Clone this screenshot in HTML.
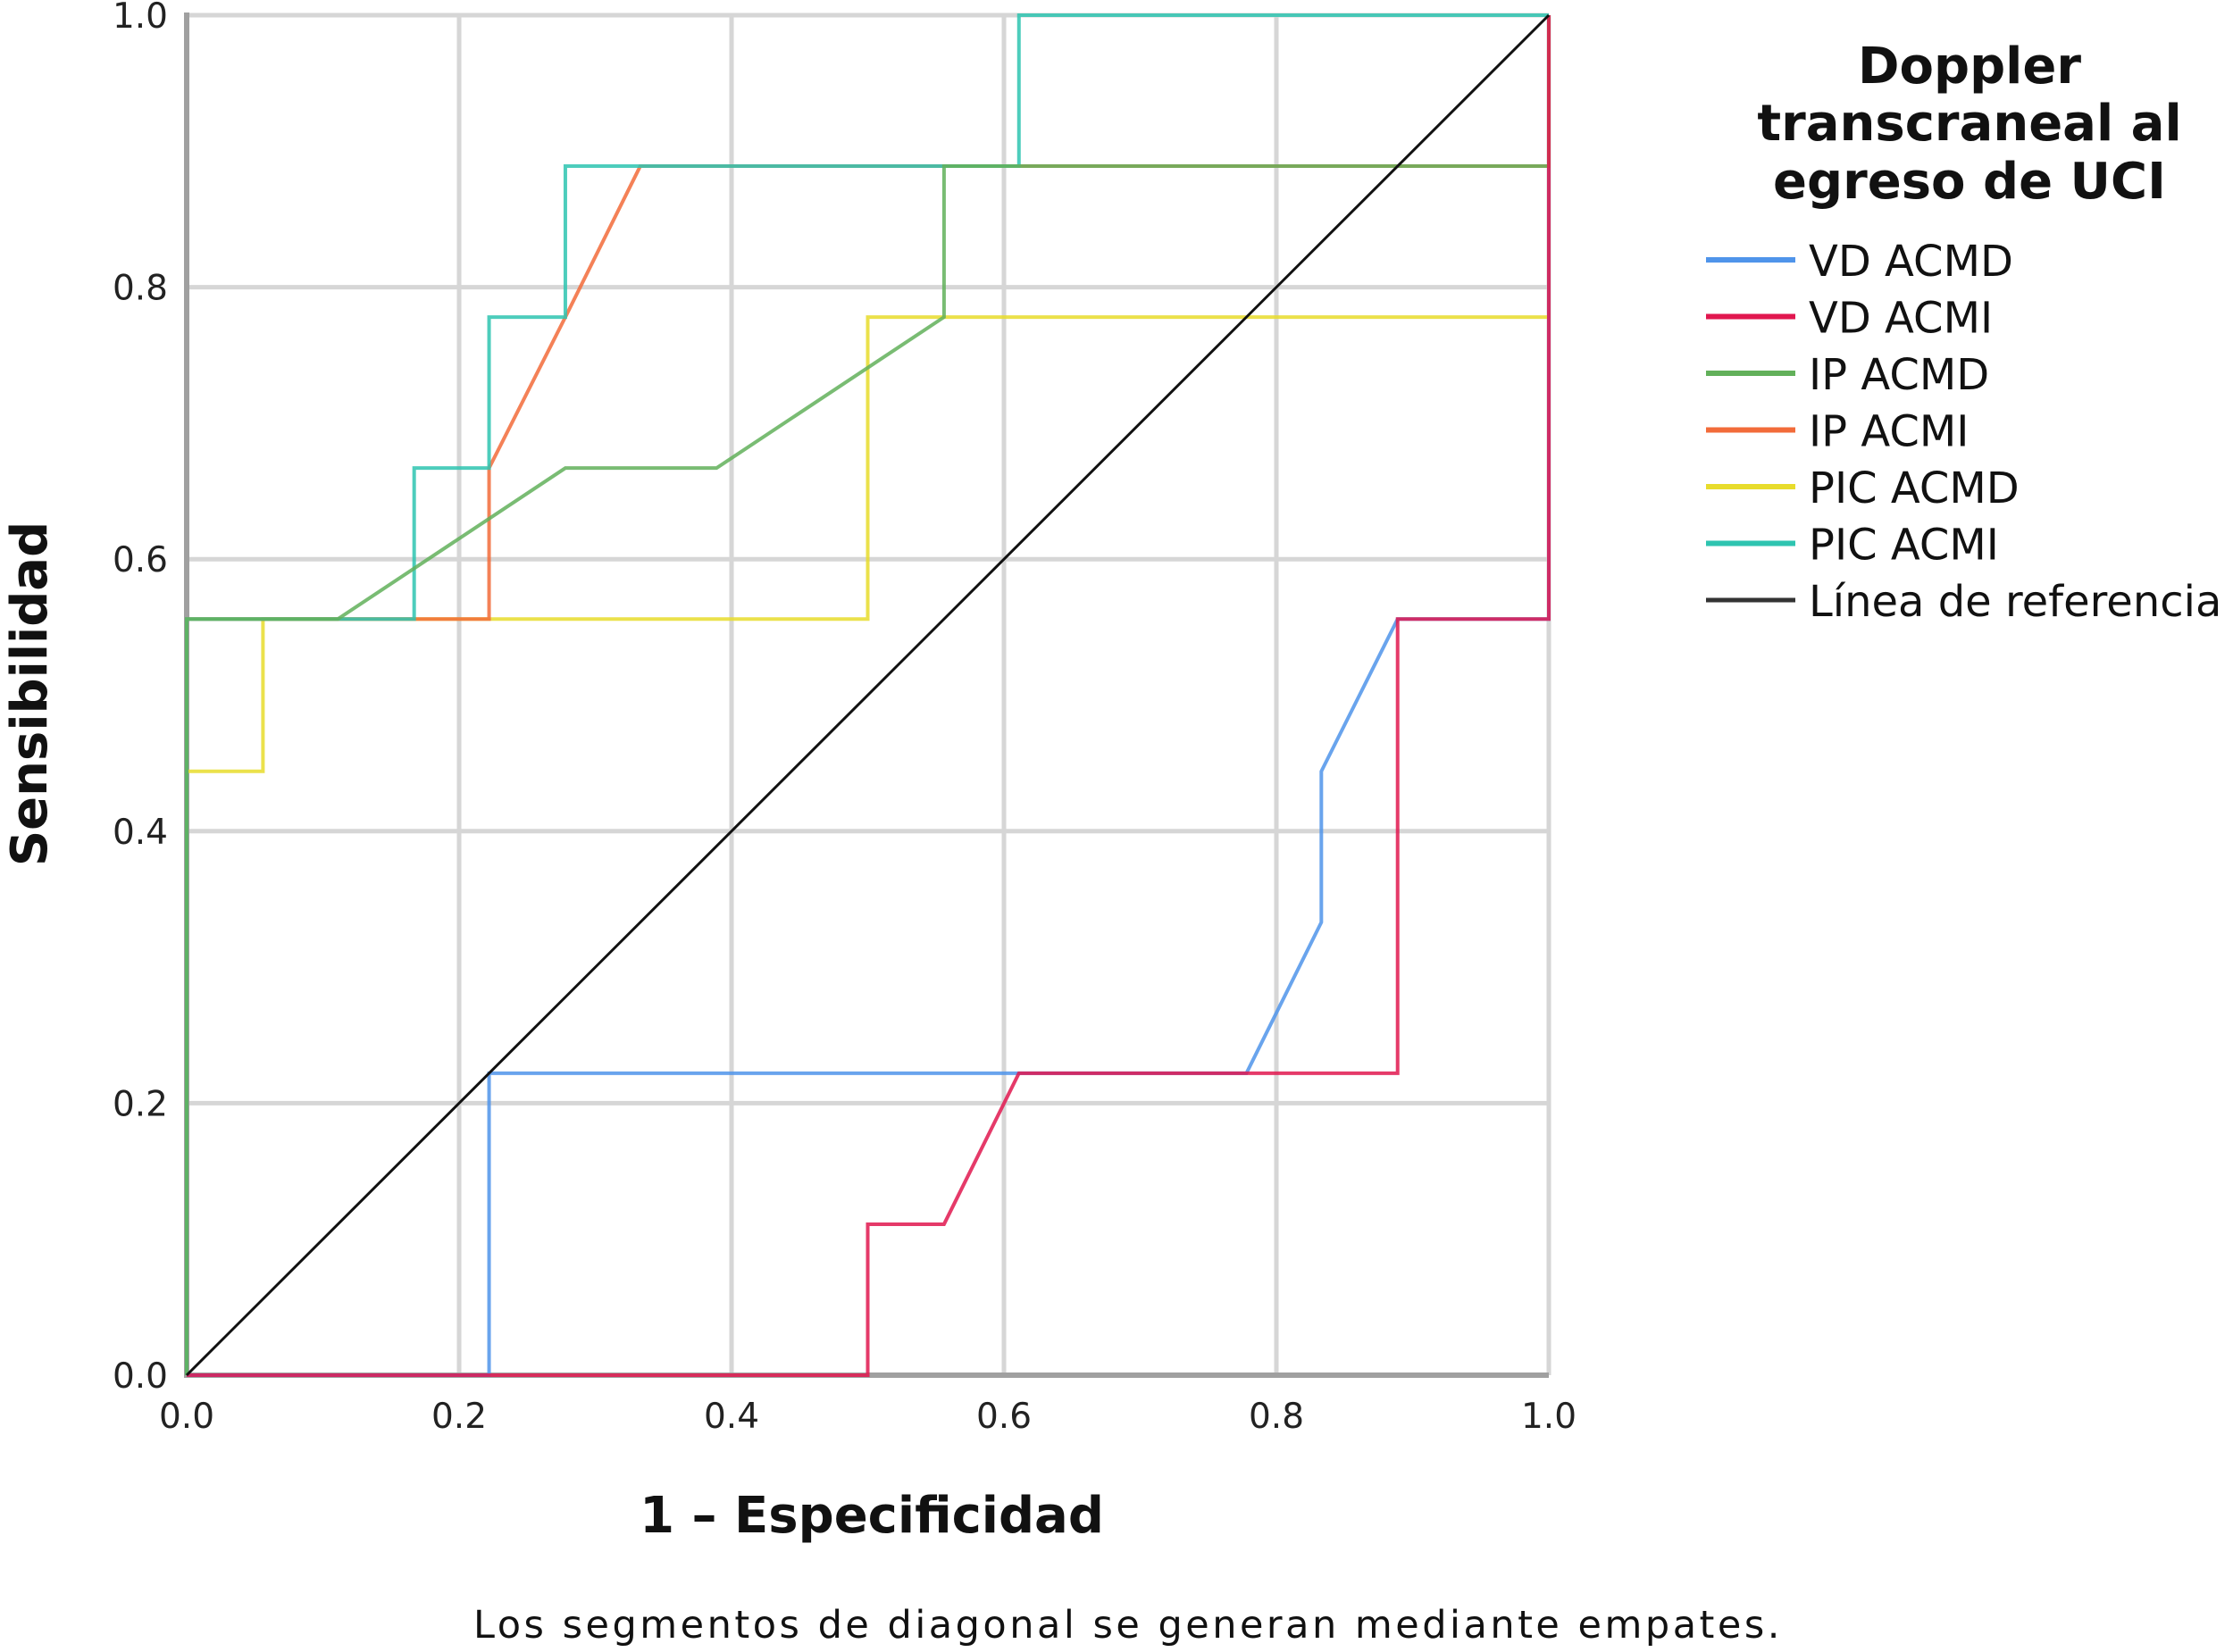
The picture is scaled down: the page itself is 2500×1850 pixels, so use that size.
<!DOCTYPE html>
<html><head><meta charset="utf-8"><style>
html,body{margin:0;padding:0;background:#fff;}
svg{display:block;font-family:"DejaVu Sans","Liberation Sans",sans-serif;}
</style></head><body>
<svg id="chart" width="2500" height="1850" viewBox="0 0 2500 1850">
<g id="grid"></g>
<g id="axes"></g>
<g id="series"></g>
<text x="976" y="1716" text-anchor="middle" font-size="56" font-weight="bold" fill="#111">1 – Especificidad</text>
<text transform="translate(52,777) rotate(-90)" text-anchor="middle" font-size="56" font-weight="bold" fill="#111">Sensibilidad</text>
<text x="1263" y="1834" text-anchor="middle" font-size="43" fill="#111" letter-spacing="3.5">Los segmentos de diagonal se generan mediante empates.</text>
<g>
<text x="2205" y="93" text-anchor="middle" font-size="56" font-weight="bold" fill="#111">Doppler</text>
<text x="2205" y="157" text-anchor="middle" font-size="56" font-weight="bold" fill="#111">transcraneal al</text>
<text x="2205" y="222" text-anchor="middle" font-size="56" font-weight="bold" fill="#111">egreso de UCI</text>
<g id="legend-entries"></g>
</g>
</svg>
<script>
const xTicks = [0, 0.2, 0.4, 0.6, 0.8, 1.0];
const yTicks = [0, 0.2, 0.4, 0.6, 0.8, 1.0];
const seriesNames = ["VD ACMD","VD ACMI","IP ACMD","IP ACMI","PIC ACMD","PIC ACMI"];
const seriesColors = ["#4f94ea","#e1174f","#62b05a","#f26b3a","#e8dc2c","#2ec4b0"];
const vdAcmdX = [0,0.222,0.222,0.778,0.833,0.833,0.889,1,1];
const vdAcmdY = [0,0,0.222,0.222,0.333,0.444,0.556,0.556,1];
const vdAcmiX = [0,0.5,0.5,0.556,0.611,0.889,0.889,1,1];
const vdAcmiY = [0,0,0.111,0.111,0.222,0.222,0.556,0.556,1];
const ipAcmdX = [0,0,0.111,0.278,0.389,0.556,0.556,1,1];
const ipAcmdY = [0,0.556,0.556,0.667,0.667,0.778,0.889,0.889,1];
const ipAcmiX = [0,0,0.222,0.222,0.278,0.333,1,1];
const ipAcmiY = [0,0.556,0.556,0.667,0.778,0.889,0.889,1];
const picAcmdX = [0,0,0.056,0.056,0.5,0.5,1,1];
const picAcmdY = [0,0.444,0.444,0.556,0.556,0.778,0.778,1];
const picAcmiX = [0,0,0.167,0.167,0.222,0.222,0.278,0.278,0.611,0.611,1];
const picAcmiY = [0,0.556,0.556,0.667,0.667,0.778,0.778,0.889,0.889,1,1];
const refX = [0,1];
const refY = [0,1];

const NS="http://www.w3.org/2000/svg";
const X0=209,X1=1734,Y0=1540,Y1=17;
const sx=v=>X0+v*(X1-X0);
const sy=v=>Y0-v*(Y0-Y1);
function mk(tag,attrs,parent){const e=document.createElementNS(NS,tag);for(const k in attrs)e.setAttribute(k,attrs[k]);parent.appendChild(e);return e;}
const grid=document.getElementById('grid'),axes=document.getElementById('axes'),ser=document.getElementById('series'),leg=document.getElementById('legend-entries');
xTicks.forEach(t=>{
  const l=mk('line',{x1:sx(t),x2:sx(t),y1:Y1,y2:Y0,stroke:'#d6d6d6','stroke-width':5},grid);
  
  
  const tx=mk('text',{x:sx(t),y:1599,'text-anchor':'middle','font-size':39,fill:'#222'},axes);
  tx.textContent=t.toFixed(1);
  
  
});
yTicks.forEach(t=>{
  const l=mk('line',{x1:X0,x2:X1,y1:sy(t),y2:sy(t),stroke:'#d6d6d6','stroke-width':5},grid);
  
  
  const tx=mk('text',{x:188,y:sy(t)+14,'text-anchor':'end','font-size':39,fill:'#222'},axes);
  tx.textContent=t.toFixed(1);
  
  
});
const ax1=mk('line',{x1:X0,x2:X0,y1:Y1-3,y2:Y0+3,stroke:'#a0a0a0','stroke-width':6},axes);


const ax2=mk('line',{x1:X0-3,x2:X1,y1:Y0,y2:Y0,stroke:'#a0a0a0','stroke-width':6},axes);


const allX=[vdAcmdX,vdAcmiX,ipAcmdX,ipAcmiX,picAcmdX,picAcmiX];
const allY=[vdAcmdY,vdAcmiY,ipAcmdY,ipAcmiY,picAcmdY,picAcmiY];
const order=[4,0,3,5,2,1];
order.forEach(i=>{
  const pts=allX[i].map((x,j)=>sx(x)+','+sy(allY[i][j])).join(' ');
  const p=mk('polyline',{points:pts,fill:'none',stroke:seriesColors[i],'stroke-width':4,'stroke-opacity':0.85},ser);
  
  
});
const rl=mk('line',{x1:sx(refX[0]),y1:sy(refY[0]),x2:sx(refX[1]),y2:sy(refY[1]),stroke:'#111','stroke-width':3},ser);


const legNames=seriesNames.concat(["Línea de referencia"]);
const legColors=seriesColors.concat(["#333"]);
legNames.forEach((n,i)=>{
  const y=291+i*63.5;
  const l=mk('line',{x1:1910,x2:2010,y1:y,y2:y,stroke:legColors[i],'stroke-width':i===6?5:6},leg);
  
  
  const t=mk('text',{x:2025,y:y+18,'font-size':48,fill:'#111'},leg);
  t.textContent=n;
  
  
});
</script>
</body></html>
